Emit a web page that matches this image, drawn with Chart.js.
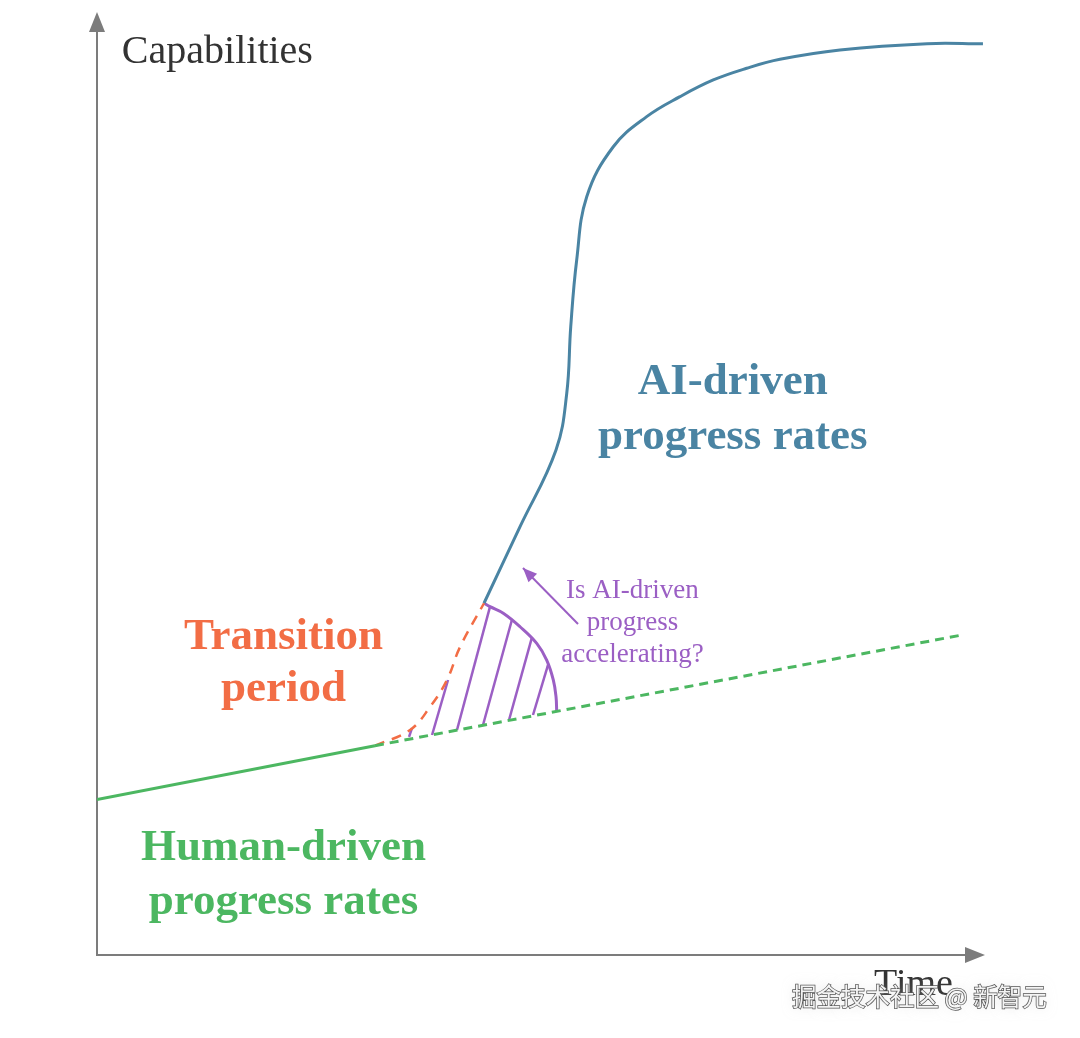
<!DOCTYPE html>
<html>
<head>
<meta charset="utf-8">
<script src="https://cdn.jsdelivr.net/npm/chart.js@4"></script>
<style>
  html, body { margin: 0; padding: 0; background: #fff; }
  #wrap { width: 1080px; height: 1038px; position: relative; }
</style>
</head>
<body>
<div id="wrap"><canvas id="myChart"></canvas></div>
<script>
// time (0-100) vs capabilities (0-100)
const humanSolidX = [0, 31.3];
const humanSolidY = [16.5, 22.2];

const humanDashX = [31.3, 97.2];
const humanDashY = [22.2, 33.9];

const transitionX = [31.3, 35.25, 37.5, 39.41, 40.88, 43.58];
const transitionY = [22.2, 23.86, 26.3, 29.16, 32.66, 37.3];

const aiX = [43.58, 47.64, 51.69, 52.9, 53.35, 54.02, 55.15, 58.14, 61.9, 65.65, 69.4, 73.16, 76.91, 83.67, 93.47, 99.77];
const aiY = [37.3, 45.42, 53.55, 59.57, 66.63, 73.7, 80.41, 85.71, 88.9, 91.02, 92.79, 94.03, 94.98, 95.97, 96.64, 96.62];

const arcX = [43.58, 44.26, 45.75, 47.64, 49.52, 50.64, 51.39, 51.69, 51.77];
const arcY = [37.3, 36.94, 36.24, 34.81, 33.05, 31.28, 29.16, 27.39, 25.8];

// hatch strokes under the arc: bottom point -> top point
const hatchX0 = [35.14, 37.73, 40.54, 43.47, 46.4, 49.1];
const hatchY0 = [23.12, 23.33, 23.86, 24.39, 24.92, 25.45];
const hatchX1 = [35.47, 39.53, 44.26, 46.73, 48.99, 50.8];
const hatchY1 = [24.07, 29.16, 36.94, 35.55, 33.7, 30.8];

const arrowX = [54.17, 47.97];
const arrowY = [35.1, 41.04];

const blue = "#4a84a3";
const green = "#4cb761";
const orange = "#f26d45";
const purple = "#9b5fc4";
const axisGray = "#7c7c7c";

function pts(xs, ys){
    return xs.map((x, i) => ({ x: x, y: ys[i] }));
}

let datasets = [
    { data: pts(humanSolidX, humanSolidY), borderColor: green, borderWidth: 3 },
    { data: pts(humanDashX, humanDashY), borderColor: green, borderWidth: 3, borderDash: [9, 6] },
    { data: pts(transitionX, transitionY), borderColor: orange, borderWidth: 2.5, borderDash: [10, 8], tension: 0.4 },
    { data: pts(aiX, aiY), borderColor: blue, borderWidth: 3, tension: 0.4 },
    { data: pts(arcX, arcY), borderColor: purple, borderWidth: 3, tension: 0.4 },
    { data: pts(arrowX, arrowY), borderColor: purple, borderWidth: 2, arrow: true }
];

for(let i = 0; i < hatchX0.length; i++){
    datasets.push({
        data: [{ x: hatchX0[i], y: hatchY0[i] }, { x: hatchX1[i], y: hatchY1[i] }],
        borderColor: purple,
        borderWidth: 2.5
    });
}

datasets.forEach(d => {
    d.showLine = true;
    d.pointRadius = 0;
    d.fill = false;
    d.borderCapStyle = "butt";
});

// text labels, anchored in data coordinates
const labels = [
    { text: ["Capabilities"], x: 2.8, y: 94.6, align: "left", font: "40px 'Liberation Serif'", color: "#333", lh: 0 },
    { text: ["AI-driven", "progress rates"], x: 71.6, y: 59.5, align: "center", font: "bold 45px 'Liberation Serif'", color: blue, lh: 55 },
    { text: ["Transition", "period"], x: 21, y: 32.4, align: "center", font: "bold 45px 'Liberation Serif'", color: orange, lh: 52 },
    { text: ["Human-driven", "progress rates"], x: 21, y: 10.1, align: "center", font: "bold 45px 'Liberation Serif'", color: green, lh: 54 },
    { text: ["Is AI-driven", "progress", "accelerating?"], x: 60.3, y: 37.9, align: "center", font: "27px 'Liberation Serif'", color: purple, lh: 32 },
    { text: ["Time"], x: 87.5, y: -4.2, align: "left", font: "38px 'Liberation Serif'", color: "#333", lh: 0 }
];

const diagramPlugin = {
    id: "diagram",
    beforeDatasetsDraw(chart){
        const c = chart.ctx;
        const xs = chart.scales.x, ys = chart.scales.y;
        const x0 = xs.getPixelForValue(0), y0 = ys.getPixelForValue(0);
        const xEnd = xs.getPixelForValue(100), yEnd = ys.getPixelForValue(100);
        c.save();
        c.strokeStyle = axisGray;
        c.fillStyle = axisGray;
        c.lineWidth = 2;
        c.beginPath();
        c.moveTo(x0, yEnd + 16);
        c.lineTo(x0, y0);
        c.lineTo(xEnd - 16, y0);
        c.stroke();
        // arrow heads
        c.beginPath();
        c.moveTo(x0, yEnd);
        c.lineTo(x0 - 8, yEnd + 20);
        c.lineTo(x0 + 8, yEnd + 20);
        c.closePath();
        c.fill();
        c.beginPath();
        c.moveTo(xEnd, y0);
        c.lineTo(xEnd - 20, y0 - 8);
        c.lineTo(xEnd - 20, y0 + 8);
        c.closePath();
        c.fill();
        c.restore();
    },
    afterDatasetsDraw(chart){
        const c = chart.ctx;
        const xs = chart.scales.x, ys = chart.scales.y;
        c.save();
        // arrow head on the annotation pointer
        chart.data.datasets.forEach(d => {
            if(!d.arrow) return;
            const a = d.data[d.data.length - 2], b = d.data[d.data.length - 1];
            const ax = xs.getPixelForValue(a.x), ay = ys.getPixelForValue(a.y);
            const bx = xs.getPixelForValue(b.x), by = ys.getPixelForValue(b.y);
            const ang = Math.atan2(by - ay, bx - ax);
            c.fillStyle = d.borderColor;
            c.beginPath();
            c.moveTo(bx, by);
            c.lineTo(bx - 14 * Math.cos(ang) + 6 * Math.sin(ang), by - 14 * Math.sin(ang) - 6 * Math.cos(ang));
            c.lineTo(bx - 14 * Math.cos(ang) - 6 * Math.sin(ang), by - 14 * Math.sin(ang) + 6 * Math.cos(ang));
            c.closePath();
            c.fill();
        });
        // labels
        c.textBaseline = "alphabetic";
        labels.forEach(l => {
            c.font = l.font;
            c.fillStyle = l.color;
            c.textAlign = l.align;
            const px = xs.getPixelForValue(l.x), py = ys.getPixelForValue(l.y);
            l.text.forEach((t, i) => c.fillText(t, px, py + i * l.lh));
        });
        // watermark
        const wm = "掘金技术社区 @ 新智元";
        c.font = "24.5px 'Noto Sans CJK SC'";
        c.textAlign = "left";
        c.shadowColor = "rgba(200,200,200,0.9)";
        c.shadowBlur = 12;
        c.fillStyle = "rgba(255,255,255,0.6)";
        c.fillText(wm, 792, 1006);
        c.shadowBlur = 0;
        c.lineWidth = 1.5;
        c.strokeStyle = "#555";
        c.strokeText(wm, 792, 1006);
        c.fillStyle = "#f4f4f4";
        c.fillText(wm, 792, 1006);
        c.restore();
    }
};

new Chart(document.getElementById("myChart"), {
    type: "scatter",
    data: { datasets: datasets },
    options: {
        responsive: true,
        maintainAspectRatio: false,
        animation: false,
        layout: { padding: { left: 97, right: 95, top: 12, bottom: 83 } },
        plugins: { legend: { display: false }, tooltip: { enabled: false } },
        scales: {
            x: { type: "linear", min: 0, max: 100, display: false },
            y: { type: "linear", min: 0, max: 100, display: false }
        },
        elements: { line: { tension: 0 } }
    },
    plugins: [diagramPlugin]
});
</script>
</body>
</html>
